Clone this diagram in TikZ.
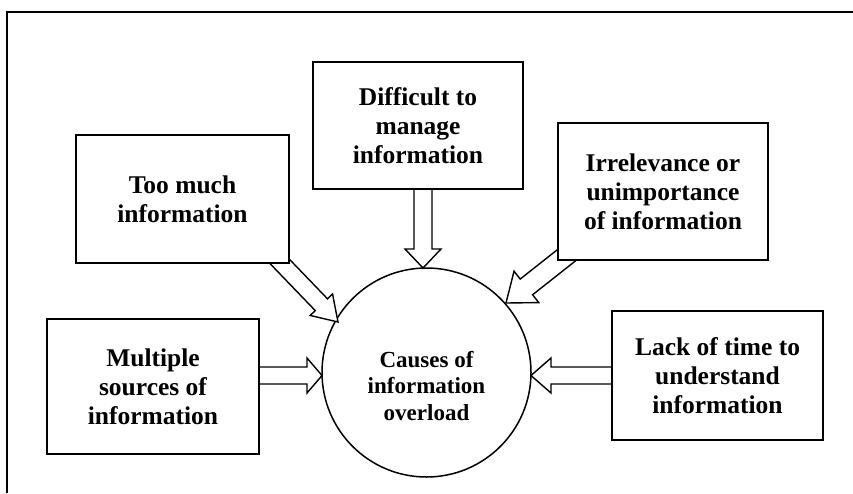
\documentclass[tikz,border=0pt]{standalone}
\usepackage{fontspec}
\setmainfont{Liberation Serif}
\usetikzlibrary{calc}
\tikzset{
  box/.style={draw=black, line width=1.6pt, fill=white, align=center, inner sep=0pt,
    font=\fontsize{25.5}{29}\selectfont\bfseries},
  circ/.style={draw=black, line width=1.5pt, fill=white, circle, inner sep=0pt, minimum size=209pt},
  circtext/.style={align=center, font=\fontsize{23}{26.5}\selectfont\bfseries},
  barrow/.style={draw=black, line width=1.4pt, fill=white, line join=miter},
  frame/.style={draw=black, line width=2pt}
}
\newcommand\blockarrow[5]{%
  \coordinate (hb) at ($(#2)!#5!(#1)$);
  \draw[barrow] ($(#1)!#3!90:(#2)$) -- ($(hb)!#3!-90:(#1)$) -- ($(hb)!#4!-90:(#1)$) -- (#2)
    -- ($(hb)!#4!90:(#1)$) -- ($(hb)!#3!90:(#1)$) -- ($(#1)!#3!-90:(#2)$) -- cycle;
}
\begin{document}
\begin{tikzpicture}[x=1pt,y=-1pt]
\useasboundingbox (0,0) rectangle (853,493);
% frame
\coordinate (fa) at (7,493);
\coordinate (fb) at (7,12);
\coordinate (fc) at (853,12);
\draw[frame] (fa) -- (fb) -- (fc);
% centre circle
\node[circ] (c) at (426.5,372.5) {};
\node[circtext] (ct) at (426.5,386) {Causes of\\information\\overload};
% arrow coordinates
\coordinate (s1) at (423,170);  \coordinate (t1) at (423,268);
\coordinate (s2) at (240,375.5); \coordinate (t2) at (322,375.5);
\coordinate (s3) at (640,375.5); \coordinate (t3) at (531,375.5);
\coordinate (s4) at (262,243);  \coordinate (t4) at (338,322);
\coordinate (s5) at (582,243);  \coordinate (t5) at (506,303);
\blockarrow{s1}{t1}{9pt}{18pt}{19pt}
\blockarrow{s2}{t2}{8.5pt}{17.5pt}{15pt}
\blockarrow{s3}{t3}{8.5pt}{17.5pt}{20pt}
\blockarrow{s4}{t4}{8.5pt}{15.5pt}{24pt}
\blockarrow{s5}{t5}{10pt}{20pt}{26pt}
% boxes
\node[box, minimum width=213pt, minimum height=128pt] (too) at (182.5,199) {Too much\\information};
\node[box, minimum width=210pt, minimum height=127pt] (diff) at (418,125.5) {Difficult to\\manage\\information};
\node[box, minimum width=210pt, minimum height=137pt] (irr) at (663,191.5) {Irrelevance or\\unimportance\\of information};
\node[box, minimum width=212pt, minimum height=135pt] (mult) at (153,386.5) {Multiple\\sources of\\information};
\node[box, minimum width=211pt, minimum height=129pt] (lack) at (717.5,375.5) {Lack of time to\\understand\\information};
\end{tikzpicture}
\end{document}
